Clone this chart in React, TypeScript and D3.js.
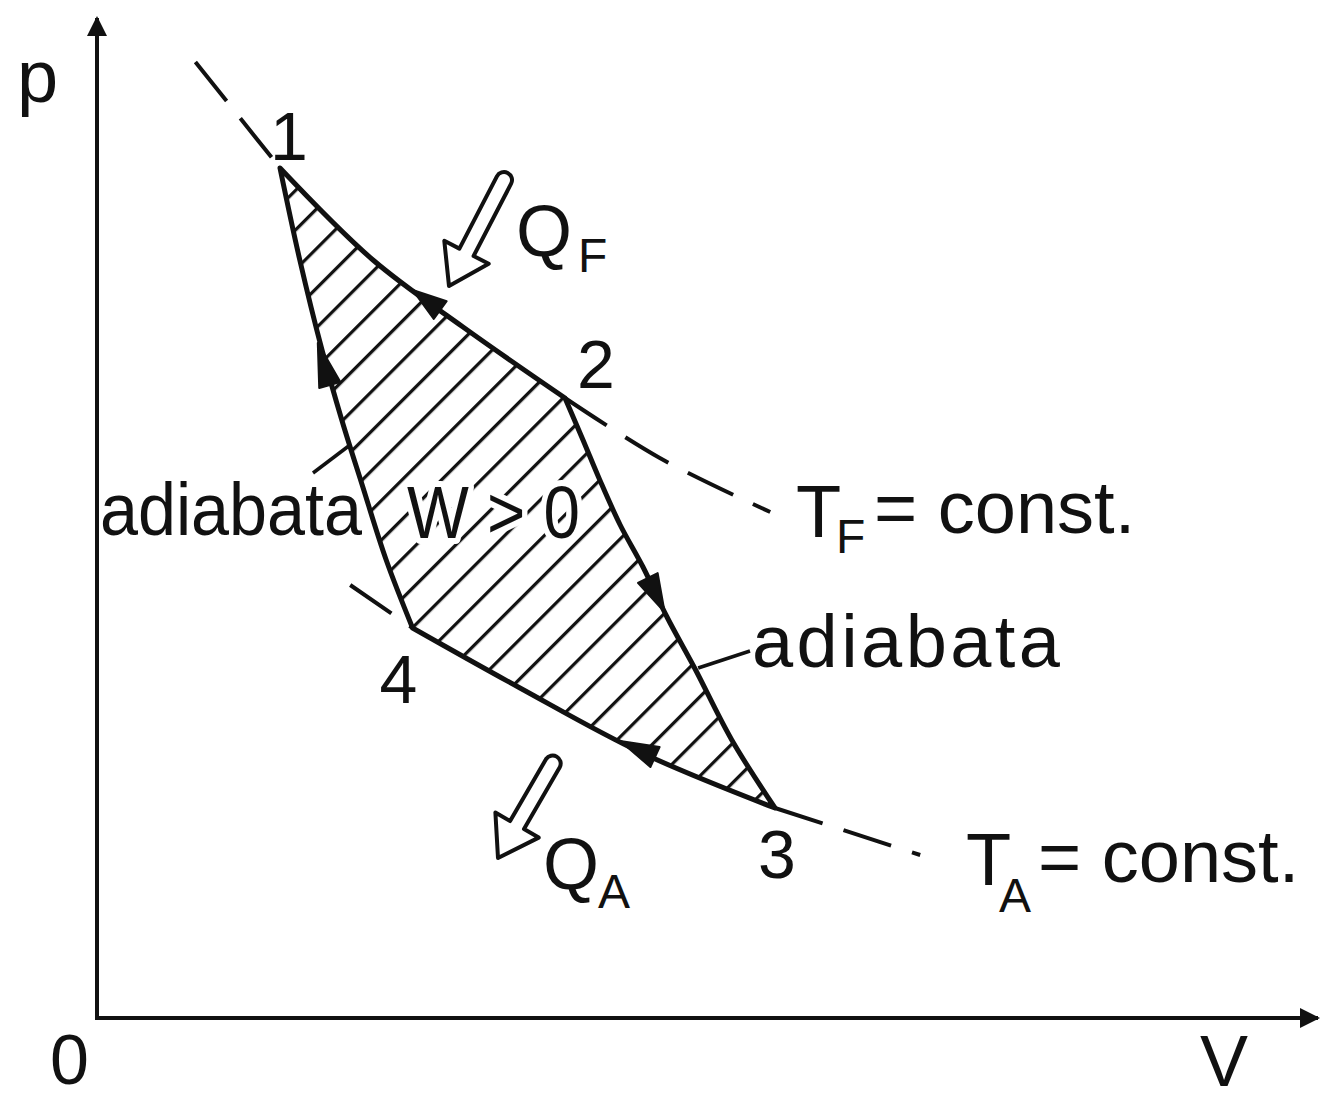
import React from 'react';
import * as d3 from 'd3';

type Pt = [number, number];

// isotherms and adiabats, in (V, p) chart units
const upperIsotherm: Pt[] = [[8.2, 95.6], [15.25, 85.0], [23.0, 75.8], [30.5, 69.1], [39.0, 62.0], [46.9, 56.0], [56.1, 50.6]];
const lowerIsotherm: Pt[] = [[21.1, 43.3], [26.3, 39.0], [35.25, 33.0], [45.25, 26.6], [56.5, 21.0], [68.6, 16.3]];
const leftAdiabat: Pt[] = [[15.25, 85.0], [16.9, 75.8], [18.75, 66.8], [20.4, 59.8], [22.1, 53.3], [24.1, 45.8], [26.3, 39.0]];
const rightAdiabat: Pt[] = [[39.0, 62.0], [40.5, 57.8], [41.9, 53.8], [43.6, 49.3], [45.5, 45.1], [47.5, 40.1], [49.8, 35.0], [52.9, 27.8], [56.5, 21.0]];

// direction marks on the cycle: tip and back point
const flowArrows: { tip: Pt; back: Pt }[] = [
  { tip: [26.3, 72.8], back: [28.6, 70.8] },
  { tip: [18.4, 67.5], back: [19.4, 63.3] },
  { tip: [47.3, 40.6], back: [45.9, 44.0] },
  { tip: [43.6, 27.7], back: [46.5, 26.1] }
];

// corner numbers
const cornerLabels = ['1', '2', '3', '4'];

const W = 1323, H = 1095;
const font = '"Liberation Sans", Arial, sans-serif';

function hollowArrow(tail: Pt, tip: Pt, sw: number, hw: number, hl: number) {
  let dx = tip[0] - tail[0], dy = tip[1] - tail[1];
  let len = Math.hypot(dx, dy);
  let ux = dx / len, uy = dy / len, nx = -uy, ny = ux;
  let bx = tip[0] - ux * hl, by = tip[1] - uy * hl;
  let p = (a: number, b: number) => a.toFixed(1) + ',' + b.toFixed(1);
  return 'M' + p(tail[0] + nx * sw, tail[1] + ny * sw)
    + 'L' + p(bx + nx * sw, by + ny * sw)
    + 'L' + p(bx + nx * hw, by + ny * hw)
    + 'L' + p(tip[0], tip[1])
    + 'L' + p(bx - nx * hw, by - ny * hw)
    + 'L' + p(bx - nx * sw, by - ny * sw)
    + 'L' + p(tail[0] - nx * sw, tail[1] - ny * sw)
    + 'A' + sw + ',' + sw + ' 0 0 0 ' + p(tail[0] + nx * sw, tail[1] + ny * sw) + 'Z';
}

export default function App() {
  let x = d3.scaleLinear().domain([0, 100]).range([97, 1297]);
  let y = d3.scaleLinear().domain([0, 100]).range([1018, 18]);

  let line = d3.line<Pt>()
    .x(d => x(d[0]))
    .y(d => y(d[1]))
    .curve(d3.curveCatmullRom.alpha(0.5));

  let top = upperIsotherm.slice(1, 5);
  let bottom = lowerIsotherm.slice(1, 5);

  let outline = [
    line(top) || '',
    (line(rightAdiabat) || '').replace(/^M/, 'L'),
    (line(bottom.slice().reverse()) || '').replace(/^M/, 'L'),
    (line(leftAdiabat.slice().reverse()) || '').replace(/^M/, 'L')
  ].join('') + 'Z';

  let corners: Pt[] = [top[0], top[top.length - 1], bottom[bottom.length - 1], bottom[0]];
  let labelOffsets: Pt[] = [[-10, -8], [12, -10], [-17, 70], [-33, 75]];

  let dash = '50 22';
  let txt = { fontFamily: font, fill: '#111' };

  return (
    <svg width={W} height={H} style={{ position: 'absolute', left: 0, top: 0, background: '#fff' }}>
      <defs>
        <pattern id='hatch' patternUnits='userSpaceOnUse' width={40} height={28} patternTransform='rotate(-45) translate(0 6)'>
          <line x1={0} y1={1.5} x2={40} y2={1.5} stroke='#111' strokeWidth={3.4} />
        </pattern>
        <clipPath id='cycle'>
          <path d={outline} />
        </clipPath>
        <marker id='axisHead' viewBox='0 0 10 10' refX={9} refY={5} markerWidth={8} markerHeight={5} orient='auto' markerUnits='strokeWidth'>
          <path d='M0,0L10,5L0,10Z' fill='#111' />
        </marker>
      </defs>
      <rect width={W} height={H} fill='#fff' />

      {/* hatched work area */}
      <rect x={0} y={0} width={W} height={H} fill='url(#hatch)' clipPath='url(#cycle)' />

      {/* axes */}
      <line x1={x(0)} y1={y(0) + 2} x2={x(0)} y2={18} stroke='#111' strokeWidth={4} markerEnd='url(#axisHead)' />
      <line x1={x(0) - 2} y1={y(0)} x2={1318} y2={y(0)} stroke='#111' strokeWidth={4} markerEnd='url(#axisHead)' />

      {/* dashed isotherm extensions */}
      <g fill='none' stroke='#111' strokeWidth={4} strokeDasharray={dash}>
        <path d={line(upperIsotherm.slice(0, 2)) || ''} />
        <path d={line(upperIsotherm.slice(4)) || ''} />
        <path d={line(lowerIsotherm.slice(0, 2)) || ''} />
        <path d={line(lowerIsotherm.slice(4)) || ''} />
      </g>

      {/* cycle outline */}
      <path d={outline} fill='none' stroke='#111' strokeWidth={5} strokeLinejoin='round' />

      {/* flow direction marks */}
      {flowArrows.map((a, i) => {
        let tx = x(a.tip[0]), ty = y(a.tip[1]), bx = x(a.back[0]), by = y(a.back[1]);
        let len = Math.hypot(tx - bx, ty - by);
        let nx = -(ty - by) / len * 11, ny = (tx - bx) / len * 11;
        return <path key={i} d={`M${tx},${ty}L${bx + nx},${by + ny}L${bx - nx},${by - ny}Z`} fill='#111' stroke='#111' strokeWidth={2} strokeLinejoin='round' />;
      })}

      {/* heat flow arrows */}
      <path d={hollowArrow([504, 180], [449, 286], 8, 25, 38)} fill='#fff' stroke='#111' strokeWidth={4} strokeLinejoin='round' />
      <path d={hollowArrow([553, 763], [498, 858], 8, 25, 38)} fill='#fff' stroke='#111' strokeWidth={4} strokeLinejoin='round' />

      {/* leader lines */}
      <line x1={313} y1={473} x2={350} y2={445} stroke='#111' strokeWidth={3.5} />
      <line x1={x(50.1)} y1={y(35.0)} x2={750} y2={651} stroke='#111' strokeWidth={3.5} />

      {/* corner numbers */}
      {corners.map((c, i) => (
        <text key={i} x={x(c[0]) + labelOffsets[i][0]} y={y(c[1]) + labelOffsets[i][1]} fontSize={68} {...txt}>{cornerLabels[i]}</text>
      ))}

      {/* axis labels */}
      <text x={17} y={102} fontSize={74} {...txt}>p</text>
      <text x={50} y={1084} fontSize={70} {...txt}>0</text>
      <text x={1200} y={1086} fontSize={72} {...txt}>V</text>

      {/* heat labels */}
      <text x={516} y={256} fontSize={72} {...txt}>Q</text>
      <text x={578} y={272} fontSize={48} {...txt}>F</text>
      <text x={543} y={889} fontSize={72} {...txt}>Q</text>
      <text x={598} y={908} fontSize={48} {...txt}>A</text>

      {/* work */}
      <text x={407} y={538} fontSize={74} textLength={173} lengthAdjust='spacingAndGlyphs' {...txt}
        stroke='#fff' strokeWidth={12} paintOrder='stroke' strokeLinejoin='round'>W &gt; 0</text>

      {/* adiabat labels */}
      <text x={100} y={535} fontSize={74} textLength={262} lengthAdjust='spacingAndGlyphs' {...txt}>adiabata</text>
      <text x={752} y={667} fontSize={74} textLength={308} lengthAdjust='spacing' {...txt}>adiabata</text>

      {/* isotherm labels */}
      <text x={796} y={537} fontSize={74} {...txt}>T</text>
      <text x={836} y={553} fontSize={48} {...txt}>F</text>
      <text x={874} y={533} fontSize={74} {...txt}>= const.</text>
      <text x={966} y={885} fontSize={74} {...txt}>T</text>
      <text x={999} y={912} fontSize={48} {...txt}>A</text>
      <text x={1038} y={882} fontSize={74} {...txt}>= const.</text>
    </svg>
  );
}
